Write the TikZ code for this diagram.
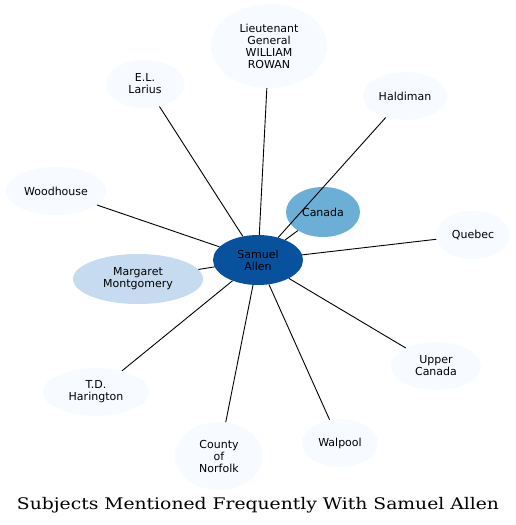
\documentclass[tikz,border=0pt]{standalone}
\usepackage{fontspec}
\usepackage{graphicx}
\newfontfamily\nodefont{DejaVu Sans}
\newfontfamily\titlefont{DejaVu Serif}
\usetikzlibrary{shapes.geometric}
\definecolor{cLight}{HTML}{F7FBFF}
\definecolor{cDark}{HTML}{08519C}
\definecolor{cMid}{HTML}{6BAED6}
\definecolor{cPale}{HTML}{C6DBEF}
\tikzset{
  topic/.style={ellipse, fill=cLight, draw=none, inner sep=0pt, align=center,
    font=\nodefont\fontsize{11}{12}\selectfont, text=black},
  link/.style={draw=black, line width=0.9pt},
}
\begin{document}
\begin{tikzpicture}[x=1pt,y=-1pt]
\useasboundingbox (0,0) rectangle (516,525);
\fill[white] (0,0) rectangle (516,525);
\node[topic, fill=cDark, minimum width=90pt, minimum height=50pt] (sam) at (258,260) {Samuel\\Allen};
\node[topic, fill=cMid, minimum width=74pt, minimum height=50pt] (can) at (323,212) {Canada};
\node[topic, minimum width=116pt, minimum height=84pt] (lt) at (269,46) {Lieutenant\\General\\WILLIAM\\ROWAN};
\node[topic, minimum width=78pt, minimum height=48pt] (el) at (145,84) {E.L.\\Larius};
\node[topic, minimum width=84pt, minimum height=48pt] (hal) at (405,96) {Haldiman};
\node[topic, minimum width=100pt, minimum height=48pt] (wood) at (56,191) {Woodhouse};
\node[topic, minimum width=74pt, minimum height=48pt] (que) at (473,235) {Quebec};
\node[topic, fill=cPale, minimum width=130pt, minimum height=50pt] (mar) at (138,279) {Margaret\\Montgomery};
\node[topic, minimum width=106pt, minimum height=48pt] (td) at (96,392) {T.D.\\Harington};
\node[topic, minimum width=90pt, minimum height=48pt] (up) at (436,366) {Upper\\Canada};
\node[topic, minimum width=88pt, minimum height=68pt] (cty) at (219,456) {County\\of\\Norfolk};
\node[topic, minimum width=76pt, minimum height=48pt] (wal) at (340,443) {Walpool};
\foreach \t in {can,lt,el,hal,wood,que,mar,td,up,cty,wal}
  \draw[link] (sam) -- (\t);
\node[font=\titlefont\fontsize{16}{19}\selectfont, inner sep=0pt, anchor=base] (title) at (258,509) {\resizebox{482pt}{\height}{Subjects Mentioned Frequently With Samuel Allen}};
\end{tikzpicture}
\end{document}
